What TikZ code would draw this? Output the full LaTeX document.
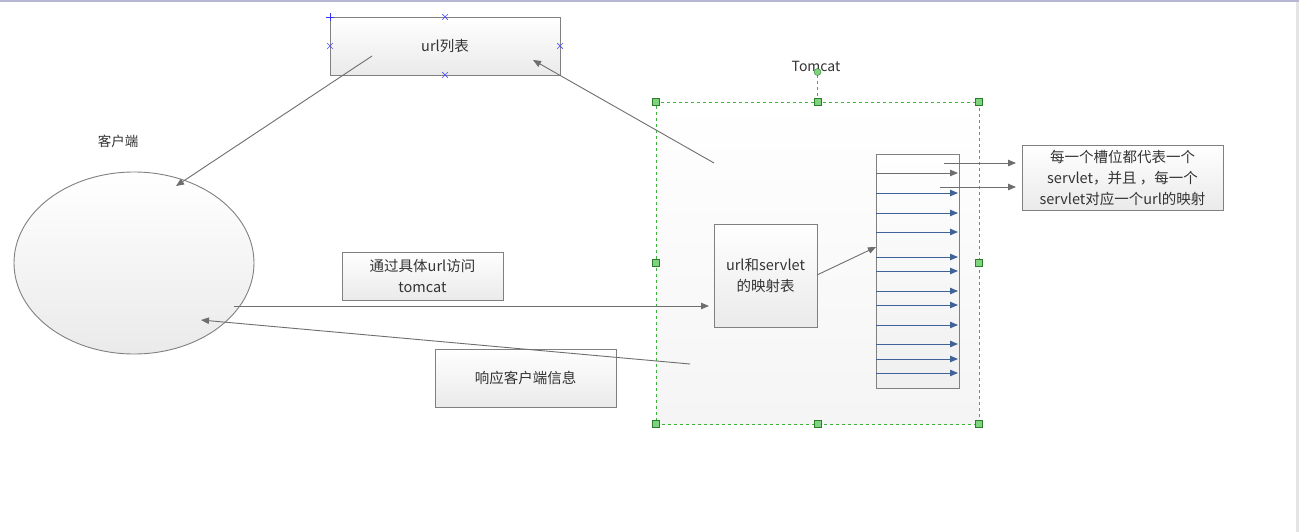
\documentclass[tikz,border=0pt]{standalone}
\usepackage{fontspec}
\setmainfont{Noto Sans CJK SC}
\usetikzlibrary{arrows.meta,shapes.misc,shapes.geometric}
\definecolor{linegray}{HTML}{808080}
\definecolor{arrowgray}{HTML}{6E6E6E}
\definecolor{boxgray}{HTML}{EAEAEA}
\definecolor{textgray}{HTML}{333333}
\definecolor{slotblue}{HTML}{3F6398}
\definecolor{handlegreen}{HTML}{7FD37F}
\definecolor{framegreen}{HTML}{3DB33D}
\tikzset{
  box/.style={draw=linegray, line width=.9pt, top color=white, bottom color=boxgray,
    inner sep=0pt, outer sep=0pt, align=center, text=textgray,
    font=\fontsize{14.5}{21}\selectfont},
  link/.style={draw=arrowgray, line width=.9pt, -{Triangle[length=8pt,width=6.5pt]}},
  slotarrow/.style={draw=slotblue, line width=.9pt, -{Triangle[length=8pt,width=6.5pt]}},
  handle/.style={draw=framegreen!70!black, fill=handlegreen, minimum size=7pt, inner sep=0pt},
  xmark/.style={cross out, draw=blue!70, line width=.7pt, minimum size=5pt, inner sep=0pt}
}
\begin{document}
\begin{tikzpicture}[x=1pt, y=-1pt]
\useasboundingbox (0,0) rectangle (1299,532);
\fill[white] (0,0) rectangle (1299,532);
% window edges
\fill[blue!25!gray!45] (0,0) rectangle (1299,2.5);
\fill[gray!20] (1296,2.5) rectangle (1299,532);

% client side
\node[box, ellipse, minimum width=240pt, minimum height=182pt] (client) at (134,263) {};
\node[text=textgray, font=\fontsize{13.5}{15}\selectfont] (clientlabel) at (118,141) {客户端};

% url list
\node[box, minimum width=230pt, minimum height=58pt] (urllist) at (445,46) {url列表};
\foreach \a in {north, south, east, west}
  \node[xmark] at (urllist.\a) {};
\draw[blue!80, line width=.8pt] ([xshift=-4pt]urllist.north west) -- ([xshift=4pt]urllist.north west)
  ([yshift=-4pt]urllist.north west) -- ([yshift=4pt]urllist.north west);

% tomcat container
\node[box, draw=framegreen, dashed, line width=.8pt, top color=white, bottom color=gray!8,
  minimum width=323pt, minimum height=322pt] (tomcat) at (817.5,263) {};
\node[text=textgray, font=\fontsize{14}{15}\selectfont] (tomcatlabel) at (816,66) {Tomcat};
\draw[framegreen, dashed, line width=.8pt] (tomcat.north) -- ++(0,-30) coordinate (rot);
\fill[handlegreen, draw=framegreen!70!black] (rot) circle (3.5pt);
\foreach \a in {north, south, east, west, north east, north west, south east, south west}
  \node[handle] at (tomcat.\a) {};

\node[box, minimum width=103pt, minimum height=103pt] (mapping) at (765.5,275.5) {url和servlet\\的映射表};
\node[box, top color=white, bottom color=gray!12, minimum width=83pt, minimum height=234pt] (slots) at (917.5,271) {};

% requests and responses
\node[box, minimum width=161pt, minimum height=48pt] (visit) at (422.5,276) {通过具体url访问\\tomcat};
\node[box, minimum width=181pt, minimum height=58pt] (reply) at (525.5,378) {响应客户端信息};
\node[box, minimum width=201pt, minimum height=65pt] (note) at (1122.5,177.5)
  {每一个槽位都代表一个\\servlet，并且 ，每一个\\servlet对应一个url的映射};

\draw[link] (372,56) -- (176,186);
\draw[link] (714,163) -- (533,60);
\draw[link] (234,306) -- ([xshift=-5pt]mapping.west |- 0,306);
\draw[link] (690,364) -- (201,320);
\draw[link] (mapping.east |- 0,275) -- (slots.west |- 0,247);

% slots
\draw[link] (slots.west |- 0,173) -- ([xshift=-1pt]slots.east |- 0,173);
\foreach \y in {193,213,232,257,271,291,305,325,344,359,373}
  \draw[slotarrow] (slots.west |- 0,\y) -- ([xshift=-1pt]slots.east |- 0,\y);
\draw[link] (944,163) -- ([xshift=-6pt]note.west |- 0,163);
\draw[link] (940,187) -- ([xshift=-6pt]note.west |- 0,187);
\end{tikzpicture}
\end{document}
